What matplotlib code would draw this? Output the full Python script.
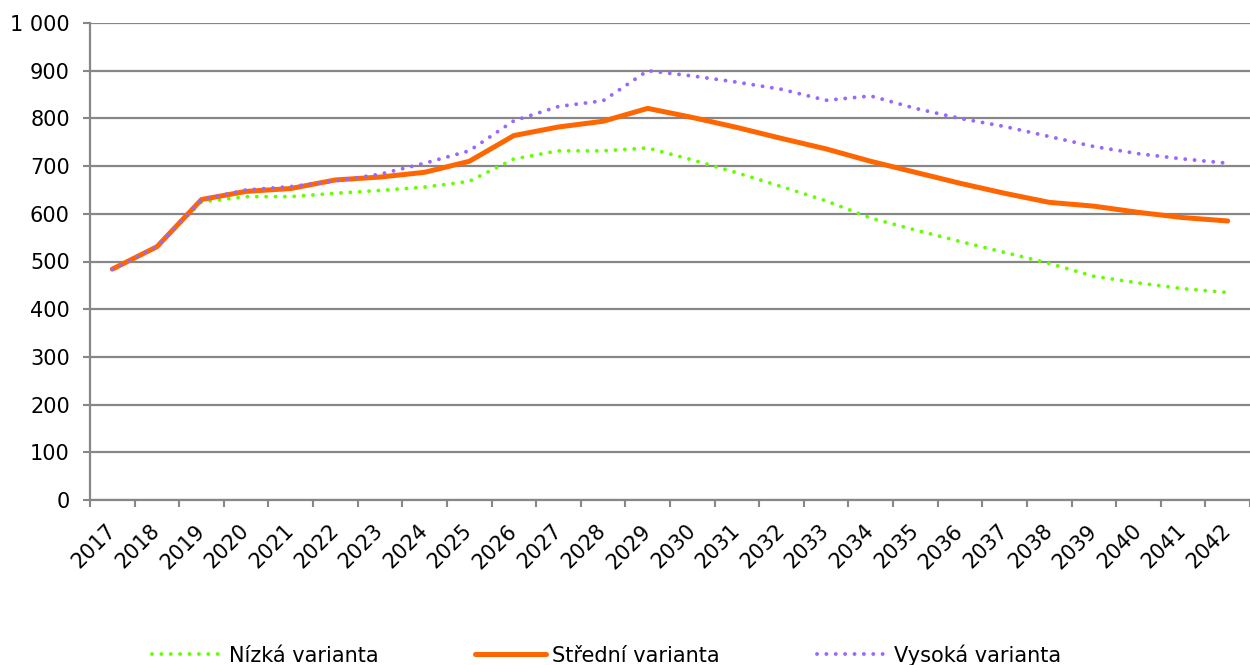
import matplotlib
matplotlib.use("Agg")
import matplotlib.pyplot as plt
import numpy as np
from matplotlib.ticker import FuncFormatter

years = [str(y) for y in range(2017, 2043)]
nizka = [484, 531, 625, 636, 636, 643, 649, 656, 668, 715, 732, 732, 738,
         713, 686, 657, 627, 591, 566, 542, 519, 496, 469, 455, 443, 435]
stredni = [484, 531, 630, 647, 653, 671, 677, 687, 710, 764, 782, 794, 821,
           802, 781, 758, 736, 710, 687, 664, 643, 624, 616, 603, 592, 585]
vysoka = [484, 531, 630, 650, 657, 669, 683, 706, 732, 795, 825, 837, 900,
          889, 876, 861, 838, 847, 821, 800, 783, 762, 741, 726, 715, 706]

GREEN, ORANGE, PURPLE = "#66FF00", "#FF6600", "#9966FF"
GRID = "#878787"
FS = 15

fig = plt.figure(figsize=(12.5, 6.65), dpi=100)
ax = fig.add_axes([90 / 1250, 1 - 500 / 665, 1160 / 1250, 477 / 665])

x = np.arange(len(years))
dots = (0, (0.01, 2.4))
ax.plot(x, nizka, color=GREEN, lw=2.8, linestyle=dots, dash_capstyle="round",
        label="Nízká varianta", zorder=3)
ax.plot(x, stredni, color=ORANGE, lw=3.6, solid_capstyle="round",
        label="Střední varianta", zorder=4)
ax.plot(x, vysoka, color=PURPLE, lw=2.8, linestyle=dots, dash_capstyle="round",
        label="Vysoká varianta", zorder=5)

ax.set_xlim(-0.5, len(years) - 0.5)
ax.set_ylim(0, 1000)
ax.set_yticks(np.arange(0, 1001, 100))
ax.yaxis.set_major_formatter(FuncFormatter(lambda v, _: f"{int(v):,}".replace(",", " ")))
ax.grid(axis="y", color=GRID, lw=1.6, zorder=1)
ax.set_axisbelow(True)

# ticks at category boundaries, labels at centres
ax.set_xticks(np.arange(-0.5, len(years), 1))
ax.set_xticklabels([])
ax.set_xticks(x, minor=True)
ax.set_xticklabels(years, minor=True, rotation=45, ha="right", va="center",
                   rotation_mode="anchor", fontsize=FS)
ax.tick_params(axis="x", which="minor", length=0, pad=20)
ax.tick_params(axis="x", which="major", length=5, color=GRID, width=1.5)
ax.tick_params(axis="y", length=5, color=GRID, width=1.5, labelsize=FS, pad=9.5)

for side in ("top", "right"):
    ax.spines[side].set_visible(False)
for side in ("left", "bottom"):
    ax.spines[side].set_color(GRID)
    ax.spines[side].set_linewidth(1.6)

fig.legend(loc="center", bbox_to_anchor=(0.485, 1 - 655 / 665), ncol=3,
           frameon=False, fontsize=FS, handlelength=3.4, handletextpad=0.3,
           columnspacing=4.65)

fig.savefig("out.png", dpi=100)
